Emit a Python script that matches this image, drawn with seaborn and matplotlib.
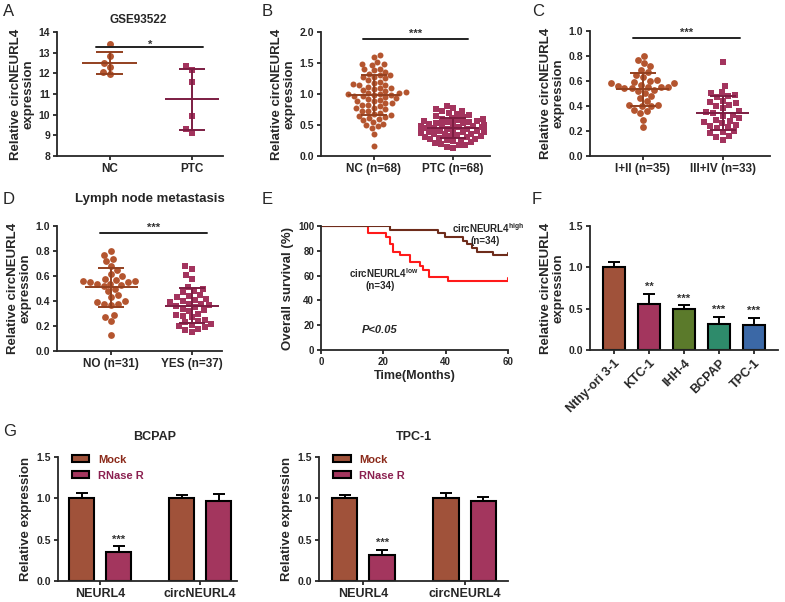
import numpy as np
import pandas as pd
import matplotlib
matplotlib.use("Agg")
import matplotlib.pyplot as plt
import seaborn as sns
from matplotlib.patches import Patch

# ---- data ----
# A: GSE93522
a_groups = ["NC", "PTC"]
a_nc = [13.4, 12.85, 12.5, 12.3, 12.05, 11.95]
a_ptc = [12.35, 12.15, 11.6, 9.95, 9.3, 9.1]

# B: NC vs PTC tissues
b_groups = ["NC (n=68)", "PTC (n=68)"]
b_nc = [1.63, 1.60, 1.52, 1.49, 1.48, 1.47, 1.41, 1.40, 1.38, 1.36,
        1.33, 1.31, 1.30, 1.28, 1.27, 1.25, 1.22, 1.20, 1.18, 1.16,
        1.14, 1.12, 1.10, 1.10, 1.08, 1.06, 1.05, 1.03, 1.02, 1.01,
        1.00, 1.00, 0.99, 0.98, 0.97, 0.96, 0.95, 0.93, 0.92, 0.90,
        0.89, 0.88, 0.86, 0.85, 0.83, 0.82, 0.80, 0.78, 0.77, 0.75,
        0.73, 0.72, 0.70, 0.68, 0.66, 0.65, 0.63, 0.62, 0.60, 0.58,
        0.55, 0.52, 0.50, 0.48, 0.45, 0.36, 0.16, 1.15]
b_ptc = [0.80, 0.78, 0.75, 0.73, 0.72, 0.70, 0.68, 0.66, 0.65, 0.63,
         0.62, 0.60, 0.59, 0.58, 0.57, 0.56, 0.55, 0.55, 0.54, 0.53,
         0.52, 0.51, 0.50, 0.50, 0.49, 0.49, 0.48, 0.48, 0.47, 0.47,
         0.46, 0.46, 0.45, 0.45, 0.44, 0.44, 0.43, 0.43, 0.42, 0.42,
         0.41, 0.40, 0.40, 0.39, 0.38, 0.38, 0.37, 0.36, 0.35, 0.35,
         0.34, 0.33, 0.32, 0.31, 0.30, 0.29, 0.28, 0.27, 0.26, 0.25,
         0.24, 0.22, 0.21, 0.20, 0.18, 0.17, 0.15, 0.13]

# C: TNM stage
c_groups = ["I+II (n=35)", "III+IV (n=33)"]
c_early = [0.80, 0.77, 0.74, 0.72, 0.69, 0.67, 0.65, 0.63, 0.61, 0.60,
           0.59, 0.58, 0.58, 0.57, 0.56, 0.55, 0.55, 0.55, 0.54, 0.54,
           0.53, 0.52, 0.50, 0.48, 0.46, 0.44, 0.41, 0.41, 0.40, 0.40,
           0.37, 0.36, 0.34, 0.29, 0.23]
c_late = [0.75, 0.56, 0.51, 0.50, 0.49, 0.48, 0.47, 0.44, 0.43, 0.42,
          0.41, 0.40, 0.38, 0.36, 0.35, 0.34, 0.33, 0.32, 0.30, 0.29,
          0.28, 0.27, 0.26, 0.25, 0.24, 0.23, 0.22, 0.20, 0.19, 0.18,
          0.16, 0.15, 0.13]

# D: lymph node metastasis
d_groups = ["NO (n=31)", "YES (n=37)"]
d_no = [0.80, 0.77, 0.74, 0.72, 0.68, 0.65, 0.62, 0.60, 0.58, 0.57,
        0.56, 0.56, 0.55, 0.55, 0.54, 0.54, 0.53, 0.52, 0.50, 0.48,
        0.45, 0.43, 0.40, 0.39, 0.38, 0.38, 0.37, 0.29, 0.27, 0.24, 0.13]
d_yes = [0.68, 0.66, 0.61, 0.58, 0.51, 0.50, 0.48, 0.47, 0.45, 0.44,
         0.43, 0.42, 0.41, 0.40, 0.39, 0.38, 0.38, 0.37, 0.36, 0.35,
         0.34, 0.33, 0.32, 0.30, 0.29, 0.28, 0.27, 0.25, 0.24, 0.23,
         0.22, 0.21, 0.20, 0.19, 0.18, 0.17, 0.15]

# E: Kaplan-Meier steps
e_high_t = [0, 22.1, 37.6, 39.8, 45.7, 46.7, 48.3, 50.0, 55.3, 60]
e_high_s = [100, 97.1, 94.1, 91.2, 88.2, 85.3, 82.4, 79.4, 76.5, 76.5]
e_low_t = [0, 15.2, 21.0, 22.0, 23.0, 25.3, 28.6, 31.8, 32.8, 34.8, 40.9, 60]
e_low_s = [100, 94.1, 91.2, 85.3, 79.4, 76.5, 70.6, 67.6, 64.7, 58.8, 55.9, 55.9]

# F: cell lines
f_cells = ["Nthy-ori 3-1", "KTC-1", "IHH-4", "BCPAP", "TPC-1"]
f_vals = [1.00, 0.56, 0.49, 0.31, 0.30]
f_err = [0.07, 0.12, 0.05, 0.09, 0.09]
f_stars = ["", "**", "***", "***", "***"]

# G: RNase R
g_genes = ["NEURL4", "circNEURL4"]
g_treat = ["Mock", "RNase R"]
g_bcpap = [[1.00, 1.00], [0.35, 0.97]]
g_bcpap_err = [[0.07, 0.04], [0.07, 0.08]]
g_tpc = [[1.00, 1.00], [0.31, 0.97]]
g_tpc_err = [[0.04, 0.06], [0.07, 0.05]]

# ---- colours ----
ORANGE = "#B4552F"
ORANGE_D = "#93401F"
CRIMSON = "#A3345E"
CRIMSON_D = "#7C1D42"
f_colors = ["#A0523A", "#A3365E", "#5B7A2B", "#2E8B6B", "#3B68A6"]

sns.set_style("ticks")
plt.rcParams["font.family"] = ["Liberation Sans", "DejaVu Sans"]
plt.rcParams["font.weight"] = "bold"
plt.rcParams["axes.labelweight"] = "bold"
plt.rcParams["axes.linewidth"] = 1.3

W, H = 785, 602
fig = plt.figure(figsize=(W / 100, H / 100), dpi=100)


def box(l, t, r, b):
    return fig.add_axes([l / W, 1 - b / H, (r - l) / W, (b - t) / H])


def ftext(x, y, s, **kw):
    fig.text(x / W, 1 - y / H, s, **kw)


def style(ax):
    sns.despine(ax=ax)
    ax.tick_params(width=1.3, length=3, labelsize=7.5, pad=2)
    for lab in ax.get_xticklabels():
        lab.set_fontsize(8.5)


def dot_panel(ax, groups, vals_list, ylim, yticks, xlim, msize):
    df = pd.DataFrame({
        "group": np.repeat(groups, [len(v) for v in vals_list]),
        "value": np.concatenate(vals_list),
    })
    for g, mk, col in zip(groups, ["o", "s"], [ORANGE, CRIMSON]):
        sns.swarmplot(data=df[df["group"] == g], x="group", y="value",
                      order=groups, marker=mk, color=col, size=msize,
                      linewidth=0, ax=ax, zorder=2)
    for i, (v, lc) in enumerate(zip(vals_list, [ORANGE_D, CRIMSON_D])):
        m, s = np.mean(v), np.std(v, ddof=1)
        ax.hlines(m, i - 0.33, i + 0.33, color=lc, lw=1.4, zorder=3)
        ax.hlines([m - s, m + s], i - 0.16, i + 0.16, color=lc, lw=1.4, zorder=3)
        ax.vlines(i, m - s, m + s, color=lc, lw=1.4, zorder=3)
    ax.set_xlim(*xlim)
    ax.set_ylim(*ylim)
    ax.set_yticks(yticks)
    ax.set_xlabel("")
    ax.set_ylabel("Relative circNEURL4\nexpression", fontsize=9.5,
                  labelpad=3, linespacing=1.0)
    style(ax)


def sig(ax, x0, x1, y, txt, dy):
    ax.plot([x0, x1], [y, y], color="#222222", lw=1.4, clip_on=False)
    ax.text((x0 + x1) / 2, y + dy, txt, ha="center", va="bottom",
            fontsize=8, color="#333333")


# A
axA = box(57, 32, 223, 156)
dot_panel(axA, a_groups, [a_nc, a_ptc], (8, 14), range(8, 15), (-0.64, 1.38), 5)
sig(axA, -0.16, 1.14, 13.25, "*", -0.1)
ftext(138, 20, "GSE93522", ha="center", va="center", fontsize=8.5)

# B
axB = box(321, 32, 490, 156)
dot_panel(axB, b_groups, [b_nc, b_ptc], (0, 2), np.arange(0, 2.01, 0.5),
          (-0.67, 1.47), 4.3)
sig(axB, -0.14, 1.19, 1.89, "***", 0.0)

# C
axC = box(590, 31, 770, 156)
dot_panel(axC, c_groups, [c_early, c_late], (0, 1), np.arange(0, 1.01, 0.2),
          (-0.66, 1.59), 4.9)
sig(axC, -0.125, 1.21, 0.944, "***", 0.0)

# D
axD = box(57, 226, 222, 351)
dot_panel(axD, d_groups, [d_no, d_yes], (0, 1), np.arange(0, 1.01, 0.2),
          (-0.67, 1.37), 4.9)
sig(axD, -0.14, 1.19, 0.944, "***", 0.0)
ftext(150, 199, "Lymph node metastasis", ha="center", va="center", fontsize=9.5)

# E
axE = box(321, 226, 508, 350)
sns.lineplot(x=e_low_t, y=e_low_s, drawstyle="steps-post", color="#FF1A1A",
             lw=1.5, ax=axE)
sns.lineplot(x=e_high_t, y=e_high_s, drawstyle="steps-post", color="#6E2C1B",
             lw=1.5, ax=axE)
axE.plot([60, 60], [e_low_s[-1], e_low_s[-1] + 2], color="#FF1A1A", lw=1.5)
axE.plot([60, 60], [e_high_s[-1], e_high_s[-1] + 2], color="#6E2C1B", lw=1.5)
axE.set_xlim(0, 60)
axE.set_ylim(0, 100)
axE.set_xticks([0, 20, 40, 60])
axE.set_yticks(range(0, 101, 20))
axE.set_xlabel("Time(Months)", fontsize=9, labelpad=2)
axE.set_ylabel("Overall survival (%)", fontsize=9.5, labelpad=3)
style(axE)
axE.tick_params(axis="x", labelsize=7)
axE.tick_params(axis="y", labelsize=7)
ftext(452, 228, "circNEURL4$^{\\mathregular{high}}$", ha="left", va="center", fontsize=7)
ftext(485, 241, "(n=34)", ha="center", va="center", fontsize=7)
ftext(349, 273, "circNEURL4$^{\\mathregular{low}}$", ha="left", va="center", fontsize=7)
ftext(380, 286, "(n=34)", ha="center", va="center", fontsize=7)
ftext(362, 330, "P<0.05", ha="left", va="center", fontsize=8, style="italic")

# F
axF = box(590, 226, 778, 350)
sns.barplot(x=f_cells, y=f_vals, hue=f_cells, palette=f_colors, legend=False,
            width=0.63, edgecolor="black", linewidth=1.5, saturation=1, ax=axF)
bars = [p for c in axF.containers for p in c]
for p, e, st in zip(bars, f_err, f_stars):
    xc = p.get_x() + p.get_width() / 2
    h = p.get_height()
    axF.errorbar(xc, h, yerr=[[0], [e]], fmt="none", ecolor="black",
                 elinewidth=1.4, capsize=4, capthick=1.4, zorder=1)
    if st:
        axF.text(xc, h + e + 0.02, st, ha="center", va="bottom", fontsize=8,
                 color="#333333")
axF.set_xlim(-0.69, 4.69)
axF.set_ylim(0, 1.5)
axF.set_yticks([0, 0.5, 1.0, 1.5])
axF.set_ylabel("Relative circNEURL4\nexpression", fontsize=9.5, labelpad=3,
               linespacing=1.0)
style(axF)
axF.set_xticks(range(len(f_cells)))
axF.set_xticklabels(f_cells, rotation=45, ha="right", rotation_mode="anchor",
                    fontsize=9)


# G
def rnase_panel(ax, vals, errs, title, xlim, title_x):
    df = pd.DataFrame({
        "gene": g_genes * 2,
        "treat": np.repeat(g_treat, 2),
        "value": np.concatenate(vals),
    })
    sns.barplot(data=df, x="gene", y="value", hue="treat", order=g_genes,
                hue_order=g_treat, palette=[f_colors[0], f_colors[1]],
                width=0.74, gap=0.32, edgecolor="black", linewidth=1.5,
                saturation=1, legend=False, ax=ax)
    for cont, err_row in zip(ax.containers, errs):
        for p, e in zip(cont, err_row):
            xc = p.get_x() + p.get_width() / 2
            ax.errorbar(xc, p.get_height(), yerr=[[0], [e]], fmt="none",
                        ecolor="black", elinewidth=1.4, capsize=4,
                        capthick=1.4, zorder=1)
    p = ax.containers[1][0]
    ax.text(p.get_x() + p.get_width() / 2, p.get_height() + errs[1][0] + 0.02,
            "***", ha="center", va="bottom", fontsize=8, color="#333333")
    ax.set_xlim(*xlim)
    ax.set_ylim(0, 1.5)
    ax.set_yticks([0, 0.5, 1.0, 1.5])
    ax.set_xlabel("")
    ax.set_ylabel("Relative expression", fontsize=9.5, labelpad=3)
    style(ax)
    ax.tick_params(axis="x", labelsize=9)
    handles = [Patch(facecolor=f_colors[0], edgecolor="black", lw=1.5),
               Patch(facecolor=f_colors[1], edgecolor="black", lw=1.5)]
    ax.legend(handles, g_treat, loc="upper left", bbox_to_anchor=(0.02, 1.1),
              frameon=False, fontsize=8, handlelength=1.6, handleheight=0.55,
              labelspacing=0.55, labelcolor=["#8B2A1A", "#8B2050"])
    ftext(title_x, 437, title, ha="center", va="center", fontsize=9)


axG1 = box(58, 457, 237, 581)
rnase_panel(axG1, g_bcpap, g_bcpap_err, "BCPAP", (-0.42, 1.37), 155)
axG2 = box(319, 457, 508, 581)
rnase_panel(axG2, g_tpc, g_tpc_err, "TPC-1", (-0.44, 1.43), 414)

# panel letters
for letter, x, y in [("A", 3, 12), ("B", 262, 12), ("C", 532, 12),
                     ("D", 3, 200), ("E", 262, 200), ("F", 532, 200),
                     ("G", 3, 432)]:
    ftext(x, y, letter, ha="left", va="center", fontsize=12, fontweight="normal")

fig.savefig("out.png", dpi=100)
